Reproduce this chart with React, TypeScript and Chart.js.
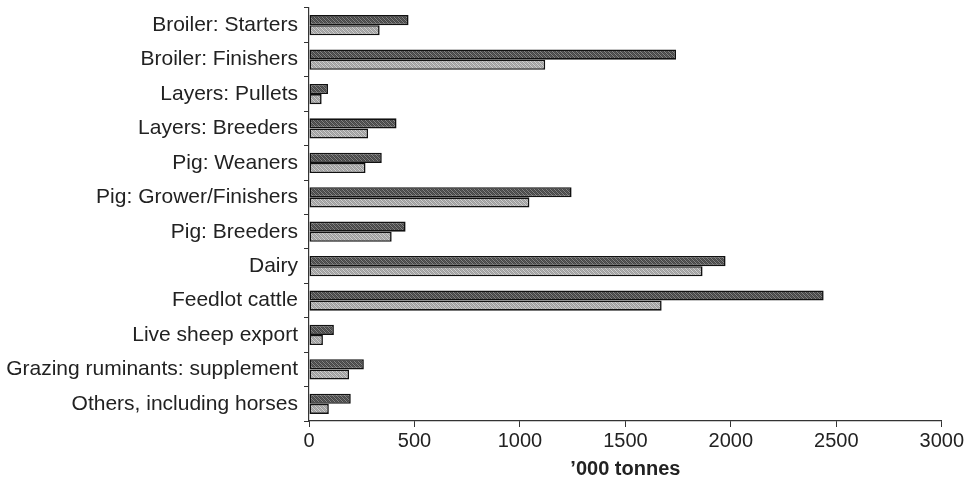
import React, { useEffect, useRef } from "react";
import { Chart, registerables } from "chart.js";

Chart.register(...registerables);

const categories = [
  "Broiler: Starters",
  "Broiler: Finishers",
  "Layers: Pullets",
  "Layers: Breeders",
  "Pig: Weaners",
  "Pig: Grower/Finishers",
  "Pig: Breeders",
  "Dairy",
  "Feedlot cattle",
  "Live sheep export",
  "Grazing ruminants: supplement",
  "Others, including horses",
];

const darkSeries = [472, 1740, 90, 415, 345, 1245, 458, 1975, 2440, 118, 260, 198];
const lightSeries = [335, 1120, 60, 280, 268, 1045, 392, 1866, 1672, 66, 190, 94];

const xTicks = [0, 500, 1000, 1500, 2000, 2500, 3000];
const xTitle = "\u2019000 tonnes";

function makePattern(a: string, b: string, c: string): CanvasPattern | string {
  const pc = document.createElement("canvas");
  pc.width = 4;
  pc.height = 4;
  const ctx = pc.getContext("2d");
  if (!ctx) return a;
  ctx.fillStyle = a;
  ctx.fillRect(0, 0, 4, 4);
  ctx.fillStyle = b;
  for (let y = 0; y < 4; y++) {
    for (let x = 0; x < 4; x++) {
      if ((x + y) % 2 === 0) ctx.fillRect(x, y, 1, 1);
    }
  }
  ctx.fillStyle = c;
  for (let i = 0; i < 4; i++) ctx.fillRect(i, (i + 1) % 4, 1, 1);
  const p = ctx.createPattern(pc, "repeat");
  return p || a;
}

export default function App() {
  const ref = useRef<HTMLCanvasElement | null>(null);

  useEffect(() => {
    document.body.style.margin = "0";
    const canvas = ref.current;
    if (!canvas) return;
    const darkFill = makePattern("#858585", "#454545", "#5a5a5a");
    const lightFill = makePattern("#d0d0d0", "#9c9c9c", "#b0b0b0");
    const font = "'Liberation Sans', Arial, Helvetica, sans-serif";
    const chart = new Chart(canvas, {
      type: "bar",
      data: {
        labels: categories,
        datasets: [
          {
            label: "Series 1",
            data: darkSeries,
            backgroundColor: darkFill as any,
            borderColor: "#111",
            borderWidth: 1.6,
            borderSkipped: false,
            categoryPercentage: 0.59,
            barPercentage: 1.0,
          },
          {
            label: "Series 2",
            data: lightSeries,
            backgroundColor: lightFill as any,
            borderColor: "#111",
            borderWidth: 1.6,
            borderSkipped: false,
            categoryPercentage: 0.59,
            barPercentage: 1.0,
          },
        ],
      },
      options: {
        indexAxis: "y",
        animation: false,
        responsive: true,
        maintainAspectRatio: false,
        layout: { padding: { top: 8, right: 0, left: 0, bottom: 0 } },
        plugins: {
          legend: { display: false },
          tooltip: { enabled: false },
        },
        scales: {
          x: {
            type: "linear",
            min: 0,
            max: 3000,
            afterBuildTicks: (scale: any) => {
              scale.ticks = xTicks.map((v) => ({ value: v }));
            },
            grid: {
              drawOnChartArea: false,
              drawTicks: true,
              tickLength: 6,
              color: "#333",
            },
            border: { color: "#333", width: 1.2 },
            ticks: {
              color: "#222",
              font: { family: font, size: 20 },
              padding: 2,
              maxRotation: 0,
              callback: (v: any) => String(v),
            },
            title: {
              display: true,
              text: xTitle,
              color: "#222",
              font: { family: font, size: 20, weight: "bold" },
              padding: { top: 2, bottom: 0 },
            },
          },
          y: {
            type: "category",
            grid: {
              drawOnChartArea: false,
              drawTicks: true,
              tickLength: 5,
              offset: true,
              color: "#333",
            },
            border: { color: "#333", width: 1.2 },
            ticks: {
              color: "#222",
              font: { family: font, size: 21 },
              padding: 6,
              autoSkip: false,
            },
            afterFit: (scale: any) => {
              scale.width = 309;
              scale.paddingTop = 0;
              scale.paddingBottom = 0;
            },
          },
        },
      },
    });
    return () => chart.destroy();
  }, []);

  return (
    <div style={{ position: "fixed", left: 0, top: 0, width: 966, height: 481 }}>
      <canvas ref={ref} />
    </div>
  );
}
